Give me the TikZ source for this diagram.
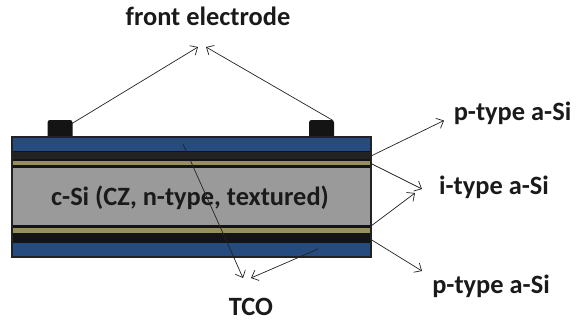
\documentclass[tikz,border=0pt]{standalone}
\usepackage{fontspec}
\setmainfont{Carlito}
\usetikzlibrary{arrows.meta}
\definecolor{cblue}{HTML}{264B7F}
\definecolor{ctan}{HTML}{97905A}
\definecolor{cgray}{HTML}{9A9A9A}
\definecolor{cblack}{HTML}{141414}
\definecolor{cdark}{HTML}{222222}
\definecolor{ctext}{HTML}{1A1A1A}
\tikzset{
  x=1pt,y=-1pt,
  lbl/.style={font=\bfseries\fontsize{26.4}{30}\selectfont,text=ctext,inner sep=0pt},
  pointer/.style={draw=cdark,line width=0.7pt,-{Straight Barb[length=6pt,width=11pt,line width=0.7pt]}},
  elec/.style={fill=cblack,draw=none,rounded corners=2.5pt},
  layer/.style={fill=#1,draw=none}
}
\begin{document}
\begin{tikzpicture}
\useasboundingbox (0,0) rectangle (578,322);
% electrodes
\path[elec] (47.5,142) -- (47.5,120) -- (72.5,120) -- (72.5,142) -- cycle;
\path[elec] (309,142) -- (309,120) -- (334,120) -- (334,142) -- cycle;
% stack
\fill[cdark] (10.5,135.5) rectangle (371.5,257.5);
\fill[layer=cblue] (12.5,138) rectangle (369.5,150.5);
\fill[layer=cblack] (12.5,150.5) rectangle (369.5,160.5);
\fill[layer=cdark] (12.5,152) rectangle (369.5,158.5);
\fill[layer=ctan] (12.5,160.5) rectangle (369.5,165.3);
\fill[layer=cblack] (12.5,165.3) rectangle (369.5,168);
\fill[layer=cgray] (12.5,168) rectangle (369.5,225);
\fill[layer=cblack] (12.5,225) rectangle (369.5,227.5);
\fill[layer=ctan] (12.5,227.5) rectangle (369.5,232.7);
\fill[layer=cblack] (12.5,232.7) rectangle (369.5,243);
\fill[layer=cblue] (12.5,243) rectangle (369.5,255.5);
% labels
\node[lbl] (front) at (208,16) {front electrode};
\node[lbl] (csi) at (190,198) {c-Si (CZ, n-type, textured)};
\node[lbl] (ptop) at (512.5,113) {p-type a-Si};
\node[lbl] (itype) at (494,187) {i-type a-Si};
\node[lbl] (pbot) at (491,286) {p-type a-Si};
\node[lbl] (tco) at (251,307) {TCO};
% connector ends
\coordinate (eL) at (72,123.5);
\coordinate (eR) at (333,120.5);
\coordinate (fL) at (198,47);
\coordinate (fR) at (206,47);
\coordinate (a1) at (371,156);
\coordinate (a1e) at (444,120.5);
\coordinate (a2) at (371,163.5);
\coordinate (a2e) at (422,189);
\coordinate (a3) at (371,226);
\coordinate (a3e) at (415,193);
\coordinate (a4) at (371,239.5);
\coordinate (a4e) at (422,271);
\coordinate (t1) at (183,144);
\coordinate (t1e) at (243,278);
\coordinate (t2) at (318,249);
\coordinate (t2e) at (251,278);
\draw[pointer] (eL) -- (fL);
\draw[pointer] (eR) -- (fR);
\draw[pointer] (a1) -- (a1e);
\draw[pointer] (a2) -- (a2e);
\draw[pointer] (a3) -- (a3e);
\draw[pointer] (a4) -- (a4e);
\draw[pointer] (t1) -- (t1e);
\draw[pointer] (t2) -- (t2e);
\end{tikzpicture}
\end{document}
